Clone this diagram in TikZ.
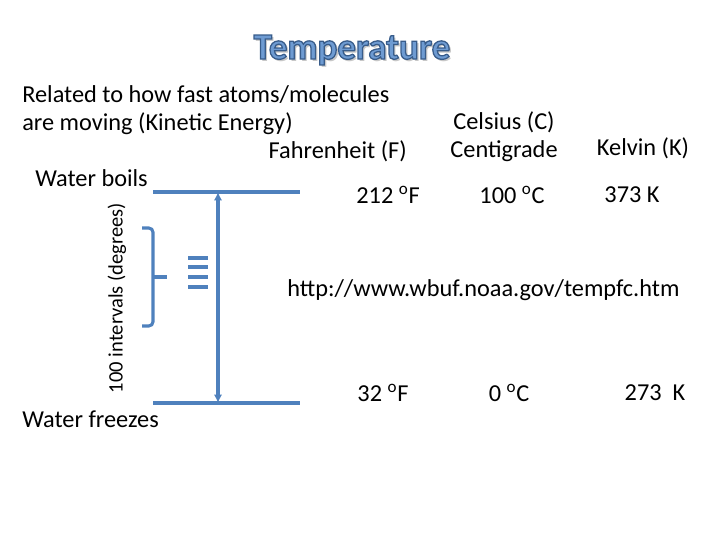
\documentclass[tikz,border=0pt]{standalone}
\usepackage{fontspec}
\setmainfont{Carlito}
\usetikzlibrary{arrows.meta, positioning}
\definecolor{lineblue}{RGB}{79,129,189}
\definecolor{titlefill}{RGB}{110,155,210}

\begin{document}
\begin{tikzpicture}[
        x=0.025cm, y=-0.025cm,
        txt/.style={inner sep=0pt, font=\fontsize{17.3}{20}\selectfont},
        small/.style={inner sep=0pt, font=\fontsize{14.6}{17}\selectfont},
        titletxt/.style={inner sep=0pt, font=\fontsize{26.3}{30}\selectfont\bfseries},
        level/.style={draw=lineblue, line width=2.2pt},
        arrow/.style={{Latex[length=6pt,width=6pt]}-{Latex[length=6pt,width=6pt]}, draw=lineblue, line width=2.2pt}
    ]
    \useasboundingbox (0,0) rectangle (720,540);

    % Titel
    \node[titletxt, text=black!22] (shadow) at (354,52) {Temperature};
    \node[titletxt, text=titlefill] (title) at (352,50) {\special{pdf:code q 2 Tr 0.9 w 0.22 0.36 0.54 RG}Temperature\special{pdf:code Q}};

    % Text links
    \node[txt, anchor=west] (rel1) at (22,95) {Related to how fast atoms/molecules};
    \node[txt, anchor=west] (rel2) at (22,124) {are moving (Kinetic Energy)};
    \node[txt, anchor=east] (fahr) at (407,151) {Fahrenheit (F)};
    \node[txt, anchor=west] (boils) at (35,178) {Water boils};
    \node[txt, anchor=west] (freezes) at (22,419) {Water freezes};
    \node[small, rotate=90] (intervals) at (117,298) {100 intervals (degrees)};

    % Skalen
    \node[txt] (cels) at (504,122) {Celsius (C)};
    \node[txt, below=0.725cm of cels.center, anchor=center] (centi) {Centigrade};
    \node[txt] (kelv) at (643,148) {Kelvin (K)};

    % Siedepunkt
    \node[txt] (fboil) at (388,195) {212 \textsuperscript{o}F};
    \node[txt] (cboil) at (512,195) {100 \textsuperscript{o}C};
    \node[txt] (kboil) at (632,195) {373 K};

    % Gefrierpunkt
    \node[txt] (ffreeze) at (383,393) {32 \textsuperscript{o}F};
    \node[txt] (cfreeze) at (509,393) {0 \textsuperscript{o}C};
    \node[txt] (kfreeze) at (655,393) {273\ \ K};

    \node[txt, anchor=west] (url) at (287,290) {http://www.wbuf.noaa.gov/tempfc.htm};

    % Linien
    \coordinate (topl) at (153,192);
    \coordinate (topr) at (300,192);
    \coordinate (botl) at (153,403);
    \coordinate (botr) at (300,403);
    \coordinate (arrtop) at (218,192);
    \coordinate (arrbot) at (218,403);
    \draw[level] (topl) -- (topr);
    \draw[level] (botl) -- (botr);
    \draw[arrow] (arrtop) -- (arrbot);

    % Klammer
    \draw[level, rounded corners=3pt] (142,228) -- (153,228) -- (153,326) -- (142,326);
    \draw[level] (153,277) -- (167,277);
    \foreach \y in {258,267,277,287} {
        \draw[level] (188,\y) -- (208,\y);
    }

    \end{tikzpicture}
\end{document}
